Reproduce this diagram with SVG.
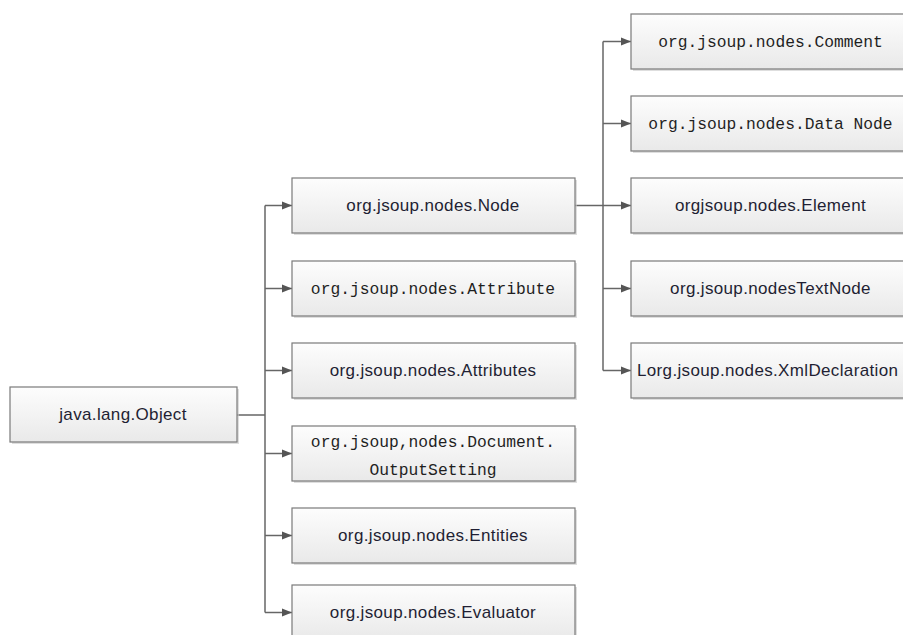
<svg xmlns="http://www.w3.org/2000/svg" width="903" height="635" viewBox="0 0 903 635">
  <defs>
    <linearGradient id="boxFill" x1="0" y1="0" x2="0" y2="1">
      <stop offset="0" stop-color="#fdfdfd"/>
      <stop offset="1" stop-color="#e9e9e9"/>
    </linearGradient>
    <marker id="arrow" viewBox="0 0 10 10" refX="10" refY="5" markerWidth="10" markerHeight="10" markerUnits="userSpaceOnUse" orient="auto">
      <path d="M0,1 L10,5 L0,9 Z" fill="#555"/>
    </marker>
  </defs>
  <style>
    .shadow { fill: #c8c8c8; opacity: 0.6; }
    .box { fill: url(#boxFill); stroke: #7a7a7a; stroke-width: 1.2; }
    .sans { font-family: "Liberation Sans", Arial, sans-serif; font-size: 17px; letter-spacing: 0.35px; fill: #1f1f33; text-anchor: middle; }
    .mono { font-family: "Liberation Mono", "Courier New", monospace; font-size: 16.3px; fill: #1f1f1f; text-anchor: middle; }
    .wire { fill: none; stroke: #666; stroke-width: 1.5; }
    .arr { fill: none; stroke: #666; stroke-width: 1.5; marker-end: url(#arrow); }
  </style>
  <rect width="903" height="635" fill="#ffffff"/>

  <!-- connectors -->
  <g id="connectors">
    <!-- root to first-level bus -->
    <path class="wire" d="M237,415 H265"/>
    <path class="wire" d="M265,205.5 V612.5"/>
    <path class="arr" d="M265,205.5 H292"/>
    <path class="arr" d="M265,288.5 H292"/>
    <path class="arr" d="M265,370.5 H292"/>
    <path class="arr" d="M265,453.5 H292"/>
    <path class="arr" d="M265,535.5 H292"/>
    <path class="arr" d="M265,612.5 H292"/>
    <!-- Node to its subclasses -->
    <path class="wire" d="M575,205.5 H603"/>
    <path class="wire" d="M603,41.5 V370.5"/>
    <path class="arr" d="M603,41.5 H631"/>
    <path class="arr" d="M603,123.5 H631"/>
    <path class="arr" d="M603,205.5 H631"/>
    <path class="arr" d="M603,288.5 H631"/>
    <path class="arr" d="M603,370.5 H631"/>
  </g>

  <!-- root -->
  <g id="object">
    <rect class="shadow" x="12" y="389" width="227" height="55"/>
    <rect class="box" x="10" y="387" width="227" height="55"/>
    <text class="sans" x="123" y="420">java.lang.Object</text>
  </g>

  <!-- first level -->
  <g id="node">
    <rect class="shadow" x="294" y="180" width="283" height="55"/>
    <rect class="box" x="292" y="178" width="283" height="55"/>
    <text class="sans" x="433" y="211">org.jsoup.nodes.Node</text>
  </g>
  <g id="attribute">
    <rect class="shadow" x="294" y="263" width="283" height="55"/>
    <rect class="box" x="292" y="261" width="283" height="55"/>
    <text class="mono" x="433" y="294">org.jsoup.nodes.Attribute</text>
  </g>
  <g id="attributes">
    <rect class="shadow" x="294" y="345" width="283" height="55"/>
    <rect class="box" x="292" y="343" width="283" height="55"/>
    <text class="sans" x="433" y="376">org.jsoup.nodes.Attributes</text>
  </g>
  <g id="output-setting">
    <rect class="shadow" x="294" y="428" width="283" height="55"/>
    <rect class="box" x="292" y="426" width="283" height="55"/>
    <text class="mono" x="433" y="447">org.jsoup,nodes.Document.</text>
    <text class="mono" x="433" y="475">OutputSetting</text>
  </g>
  <g id="entities">
    <rect class="shadow" x="294" y="510" width="283" height="55"/>
    <rect class="box" x="292" y="508" width="283" height="55"/>
    <text class="sans" x="433" y="541">org.jsoup.nodes.Entities</text>
  </g>
  <g id="evaluator">
    <rect class="shadow" x="294" y="587" width="283" height="55"/>
    <rect class="box" x="292" y="585" width="283" height="55"/>
    <text class="sans" x="433" y="618">org.jsoup.nodes.Evaluator</text>
  </g>

  <!-- subclasses of Node -->
  <g id="comment">
    <rect class="shadow" x="633" y="16" width="279" height="55"/>
    <rect class="box" x="631" y="14" width="279" height="55"/>
    <text class="mono" x="770.5" y="47">org.jsoup.nodes.Comment</text>
  </g>
  <g id="data-node">
    <rect class="shadow" x="633" y="98" width="279" height="55"/>
    <rect class="box" x="631" y="96" width="279" height="55"/>
    <text class="mono" x="770.5" y="129">org.jsoup.nodes.Data Node</text>
  </g>
  <g id="element">
    <rect class="shadow" x="633" y="180" width="279" height="55"/>
    <rect class="box" x="631" y="178" width="279" height="55"/>
    <text class="sans" x="770.5" y="211">orgjsoup.nodes.Element</text>
  </g>
  <g id="text-node">
    <rect class="shadow" x="633" y="263" width="279" height="55"/>
    <rect class="box" x="631" y="261" width="279" height="55"/>
    <text class="sans" x="770.5" y="294">org.jsoup.nodesTextNode</text>
  </g>
  <g id="xml-declaration">
    <rect class="shadow" x="633" y="345" width="279" height="55"/>
    <rect class="box" x="631" y="343" width="279" height="55"/>
    <text class="sans" x="637" y="376" style="text-anchor: start">Lorg.jsoup.nodes.XmlDeclaration</text>
  </g>
</svg>
